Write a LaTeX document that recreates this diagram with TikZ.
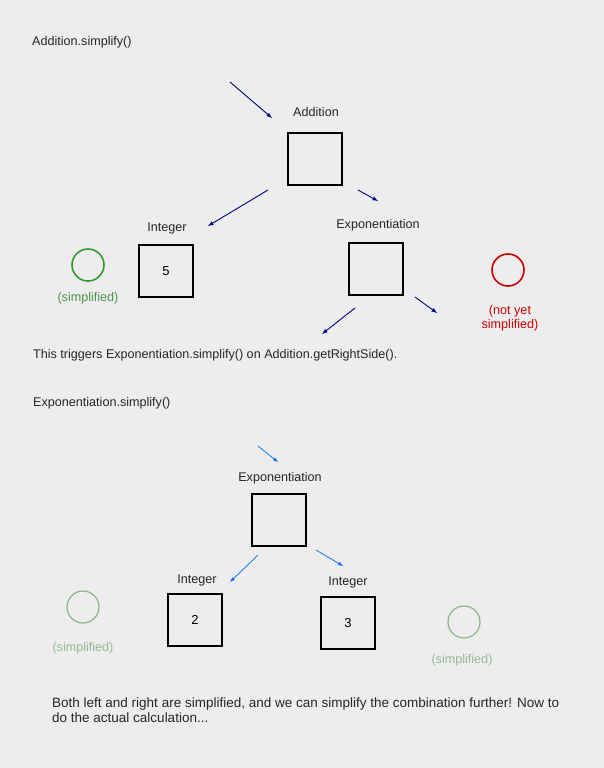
\documentclass[tikz,border=0pt]{standalone}
\usepackage{fontspec}
\setmainfont{Liberation Sans}
\begin{document}
\begin{tikzpicture}[x=1pt,y=-1pt,
  txt/.style={font=\fontsize{12.6}{14}\selectfont,text=black!85,inner sep=0pt},
  box/.style={draw=black,line width=1.5pt,minimum width=54pt,minimum height=52pt,font=\fontsize{13}{14}\selectfont},
  arr/.style={-latex,draw=blue!50!black,line width=0.9pt},
  larr/.style={-latex,draw=blue!60!cyan,line width=0.7pt},
  circ/.style={circle,draw,line width=1.6pt,minimum size=32pt,inner sep=0pt}]
\fill[black!7] (0,0) rectangle (604,768);
\node[txt,anchor=west] (t1) at (32,42) {Addition.simplify()};
\coordinate (a1s) at (230,82); \coordinate (a1e) at (272,118);
\draw[arr] (a1s) -- (a1e);
\node[txt] (add) at (316,112) {Addition};
\node[box] (addb) at (315,159) {};
\coordinate (a2s) at (268,190); \coordinate (a2e) at (208,226);
\draw[arr] (a2s) -- (a2e);
\coordinate (a3s) at (358,190); \coordinate (a3e) at (378,201);
\draw[arr] (a3s) -- (a3e);
\node[txt] (int1) at (167,228) {Integer};
\node[box] (ib1) at (166,271) {5};
\node[txt] (exp1) at (378,225) {Exponentiation};
\node[box] (eb1) at (376,269) {};
\node[circ,draw=green!50!black!80] (c1) at (88,265) {};
\node[txt,text=green!40!black!70] (s1) at (88,298) {(simplified)};
\node[circ,draw=red!80!black] (c2) at (508,270) {};
\node[txt,text=red!80!black,align=center] (s2) at (510,318) {(not yet\\simplified)};
\coordinate (a4s) at (355,308); \coordinate (a4e) at (322,334);
\draw[arr] (a4s) -- (a4e);
\coordinate (a5s) at (415,297); \coordinate (a5e) at (437,313);
\draw[arr] (a5s) -- (a5e);
\node[txt,anchor=west] (t2) at (33,355) {This triggers Exponentiation.simplify() on Addition.getRightSide().};
\node[txt,anchor=west] (t3) at (33,403) {Exponentiation.simplify()};
\coordinate (b1s) at (258,446); \coordinate (b1e) at (278,462);
\draw[larr] (b1s) -- (b1e);
\node[txt] (exp2) at (280,478) {Exponentiation};
\node[box] (eb2) at (279,520) {};
\coordinate (b2s) at (258,555); \coordinate (b2e) at (230,582);
\draw[larr] (b2s) -- (b2e);
\coordinate (b3s) at (316,550); \coordinate (b3e) at (343,566);
\draw[larr] (b3s) -- (b3e);
\node[txt] (int2) at (197,580) {Integer};
\node[box] (ib2) at (195,620) {2};
\node[txt] (int3) at (348,582) {Integer};
\node[box] (ib3) at (348,623) {3};
\node[circ,draw=green!35!black!45,line width=1.2pt] (c3) at (83,607) {};
\node[txt,text=green!30!black!40] (s3) at (83,648) {(simplified)};
\node[circ,draw=green!35!black!45,line width=1.2pt] (c4) at (464,622) {};
\node[txt,text=green!30!black!40] (s4) at (462,660) {(simplified)};
\node[txt,anchor=north west,align=left,font=\fontsize{13.5}{15}\selectfont] (t4) at (52,698) {Both left and right are simplified, and we can simplify the combination further! Now to\\do the actual calculation...};
\end{tikzpicture}
\end{document}
